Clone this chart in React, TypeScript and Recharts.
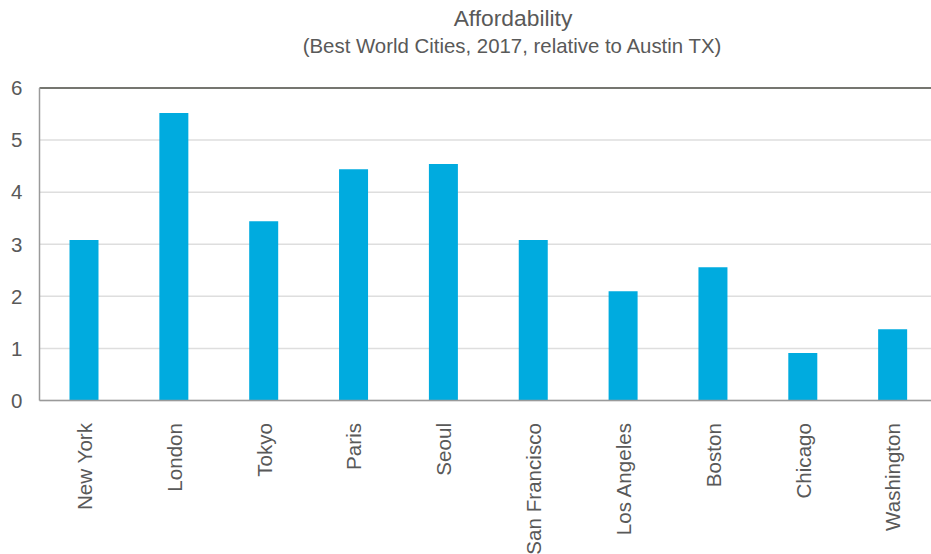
import React from "react";
import {
  BarChart,
  Bar,
  XAxis,
  YAxis,
  CartesianGrid,
  ReferenceLine,
} from "recharts";

// City names along the category axis
const cities = [
  "New York",
  "London",
  "Tokyo",
  "Paris",
  "Seoul",
  "San Francisco",
  "Los Angeles",
  "Boston",
  "Chicago",
  "Washington",
];

// Affordability index relative to Austin TX
const affordability = [3.08, 5.52, 3.44, 4.44, 4.54, 3.08, 2.1, 2.56, 0.91, 1.37];

const yTicks = [0, 1, 2, 3, 4, 5, 6];

const titleText = "Affordability";
const subtitleText = "(Best World Cities, 2017, relative to Austin TX)";

const data = cities.map((city, i) => ({ city, value: affordability[i] }));

const FONT = "'Liberation Sans', Arial, Helvetica, sans-serif";
const TEXT_COLOR = "#595959";
const BAR_COLOR = "#00ABDF";

const CityTick = (props: any) => {
  const { x, y, payload } = props;
  return (
    <g transform={`translate(${x},${y})`}>
      <text
        transform="rotate(-90)"
        textAnchor="end"
        dy="0.36em"
        fontFamily={FONT}
        fontSize={20.6}
        fill={TEXT_COLOR}
      >
        {payload.value}
      </text>
    </g>
  );
};

export default function App() {
  return (
    <div
      style={{
        position: "absolute",
        left: 0,
        top: 0,
        width: 931,
        height: 554,
        overflow: "hidden",
        background: "#ffffff",
      }}
    >
      <svg
        width={931}
        height={80}
        style={{ position: "absolute", left: 0, top: 0 }}
      >
        <text
          x={513}
          y={26}
          textAnchor="middle"
          fontFamily={FONT}
          fontSize={22.8}
          fill={TEXT_COLOR}
        >
          {titleText}
        </text>
        <text
          x={512}
          y={53}
          textAnchor="middle"
          fontFamily={FONT}
          fontSize={20.4}
          fill={TEXT_COLOR}
        >
          {subtitleText}
        </text>
      </svg>
      <div style={{ position: "absolute", left: 0, top: 0 }}>
        <BarChart
          width={938}
          height={554}
          data={data}
          margin={{ top: 88, right: 0, bottom: 0, left: 0 }}
          barSize={29}
        >
          <CartesianGrid
            vertical={false}
            stroke="#dedede"
            strokeWidth={1.5}
          />
          <XAxis
            dataKey="city"
            height={153.5}
            interval={0}
            tickLine={false}
            axisLine={{ stroke: "#9a9a9a", strokeWidth: 1.5 }}
            tickSize={0}
            tickMargin={22.5}
            tick={<CityTick />}
          />
          <YAxis
            width={39.5}
            domain={[0, 6]}
            ticks={yTicks}
            interval={0}
            tickLine={false}
            axisLine={{ stroke: "#9a9a9a", strokeWidth: 1.5 }}
            tickSize={0}
            tickMargin={17}
            tick={{ fontFamily: FONT, fontSize: 20.5, fill: TEXT_COLOR }}
          />
          <ReferenceLine y={6} stroke="#4f5149" strokeWidth={1.5} />
          <Bar
            dataKey="value"
            fill={BAR_COLOR}
            isAnimationActive={false}
          />
        </BarChart>
      </div>
    </div>
  );
}
